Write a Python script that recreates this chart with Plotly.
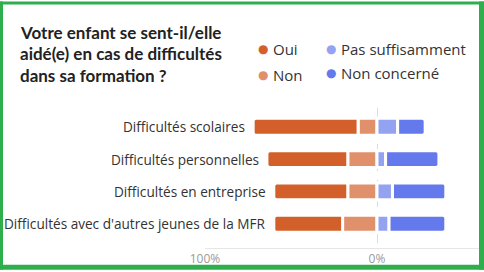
import plotly.graph_objects as go

# ---------------- data ----------------
CATEGORIES = [
    "Difficultés scolaires",
    "Difficultés personnelles",
    "Difficultés en entreprise",
    "Difficultés avec d'autres jeunes de la MFR",
]
OUI = [61, 47, 43, 40]
NON = [11, 17, 17, 20]
PAS_SUFFISAMMENT = [12, 5, 9, 7]
NON_CONCERNE = [16, 31, 31, 33]
SERIES_NAMES = ["Oui", "Non", "Pas suffisamment", "Non concerné"]
TICK_VALUES = [-100, 0]
TICK_LABELS = ["100%", "0%"]
TITLE_LINES = [
    "Votre enfant se sent-il/elle",
    "aidé(e) en cas de difficultés",
    "dans sa formation ?",
]

# ---------------- style ----------------
COLORS = {"Oui": "#D3602B", "Non": "#E0916B",
          "Pas suffisamment": "#93A3F1", "Non concerné": "#6479EB"}
W, H = 484, 272
ML, MR, MT, MB = 205, 5, 108, 22
PW, PH = W - ML - MR, H - MT - MB
GREEN = "#2EAF4C"
LABEL_FONT = "Open Sans"


def px_x(px):
    return (px - ML) / PW


def px_y(py):
    return (H - MB - py) / PH


fig = go.Figure()
bar_style = dict(orientation="h", width=0.52, showlegend=False, hoverinfo="skip")
# negative side: Non closest to zero, then Oui
fig.add_trace(go.Bar(y=CATEGORIES, x=[-v for v in NON], name="Non",
                     marker=dict(color=COLORS["Non"], line=dict(color="white", width=3)),
                     **bar_style))
fig.add_trace(go.Bar(y=CATEGORIES, x=[-v for v in OUI], name="Oui",
                     marker=dict(color=COLORS["Oui"], line=dict(color="white", width=3)),
                     **bar_style))
fig.add_trace(go.Bar(y=CATEGORIES, x=PAS_SUFFISAMMENT, name="Pas suffisamment",
                     marker=dict(color=COLORS["Pas suffisamment"], line=dict(color="white", width=3)),
                     **bar_style))
fig.add_trace(go.Bar(y=CATEGORIES, x=NON_CONCERNE, name="Non concerné",
                     marker=dict(color=COLORS["Non concerné"], line=dict(color="white", width=3)),
                     **bar_style))

annotations = []
# category labels next to left end of each bar
for cat, o, n in zip(CATEGORIES, OUI, NON):
    annotations.append(dict(x=-(o + n), y=cat, xref="x", yref="y", text=cat,
                            xanchor="right", yanchor="middle", xshift=-6, showarrow=False,
                            font=dict(family=LABEL_FONT, size=13.6, color="#333333")))

# legend (2 x 2): coloured dot + name
legend_pos = {"Oui": (263, 48), "Pas suffisamment": (331, 48),
              "Non": (263, 75), "Non concerné": (331, 72)}
for name in SERIES_NAMES:
    lx, ly = legend_pos[name]
    annotations.append(dict(
        x=px_x(lx), y=px_y(ly), xref="paper", yref="paper",
        xanchor="center", yanchor="middle", showarrow=False,
        text="●", font=dict(family="DejaVu Sans", size=12, color=COLORS[name])))
    annotations.append(dict(
        x=px_x(lx + 8), y=px_y(ly), xref="paper", yref="paper",
        xanchor="left", yanchor="middle", showarrow=False,
        text=name, font=dict(family=LABEL_FONT, size=15, color="#333333")))

# title
for i, line in enumerate(TITLE_LINES):
    annotations.append(dict(
        x=px_x(18), y=px_y(31 + 22 * i), xref="paper", yref="paper",
        xanchor="left", yanchor="middle", showarrow=False,
        text=f"<b>{line}</b>",
        font=dict(family="Lato", size=17, color="#222222")))

# green frame
border = [(0, 0, W, 3), (0, 0, 3, H), (W - 5, 0, W, H), (0, H - 5, W, H)]
shapes = [dict(type="rect", xref="paper", yref="paper",
               x0=px_x(x0), x1=px_x(x1), y0=px_y(y1), y1=px_y(y0),
               fillcolor=GREEN, line=dict(width=0), layer="above")
          for x0, y0, x1, y1 in border]

fig.update_layout(
    width=W, height=H,
    margin=dict(l=ML, r=MR, t=MT, b=MB, pad=0),
    barmode="relative",
    bargap=0.4,
    barcornerradius=3,
    paper_bgcolor="white", plot_bgcolor="white",
    annotations=annotations,
    shapes=shapes,
    showlegend=False,
    xaxis=dict(range=[-100, 59.3], tickvals=TICK_VALUES, ticktext=TICK_LABELS,
               showgrid=True, gridcolor="#DCDCDC", griddash="dash", gridwidth=1,
               zeroline=False, showline=True, linecolor="#E6E6E6", linewidth=1,
               ticks="", tickfont=dict(family=LABEL_FONT, size=12, color="#9A9A9A"),
               fixedrange=True),
    yaxis=dict(categoryorder="array", categoryarray=CATEGORIES,
               range=[3.75, -0.58], showticklabels=False, showgrid=False,
               zeroline=False, showline=False, ticks="", fixedrange=True),
)

fig.write_html("out.html")
